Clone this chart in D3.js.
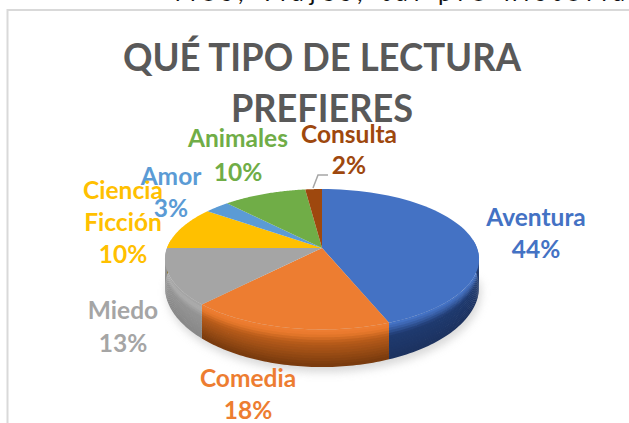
<!DOCTYPE html>
<html>
<head>
<meta charset="utf-8">
<script src="https://cdn.jsdelivr.net/npm/d3@7"></script>
<style>
  html, body { margin: 0; padding: 0; background: #fff; overflow: hidden; }
  svg { display: block; font-family: Lato, "Open Sans", sans-serif; font-weight: 700; }
</style>
</head>
<body>
<svg id="chart" width="629" height="423"></svg>
<script>
const categories = ['Aventura', 'Comedia', 'Miedo', 'Ciencia Ficción', 'Amor', 'Animales', 'Consulta'];
const values = [44, 18, 13, 10, 3, 10, 2];
const colors = ['#4472c4', '#ed7d31', '#a5a5a5', '#ffc000', '#5b9bd5', '#70ad47', '#9e480e'];
const rimLight = ['#3a62ac', '#e8792c', '#adadad', '#ffc000', '#5b9bd5', '#70ad47', '#9e480e'];
const rimMid = ['#1f3a70', '#b85c1a', '#949494', '#bf9000', '#41719c', '#548235', '#763608'];
const rimDark = ['#1c3260', '#7a3b0e', '#888888', '#7f6000', '#2e4f6e', '#385723', '#4f2405'];
const titleLines = ['QUÉ TIPO DE LECTURA', 'PREFIERES'];
const topText = 'rios, viajes, tal pro historia';

const svg = d3.select('#chart');
const defs = svg.append('defs');

// Setup: pie with perspective tilt, apex sits above the middle of the ellipse
const cx = 322, cy = 248;
const R = 155, S = 68.4, k = 0.16;

const project = (a, r = 1) => {
  const u = Math.sin(a) * r, v = Math.cos(a) * r;
  const w = 1 + k * v;
  return [cx + R * u / w, cy - S * v / w];
};
// rim gets thicker towards the viewer
const rimDepth = a => 26 / Math.pow(1 + k * Math.cos(a), 2);

const arcs = d3.pie().sort(null).value(d => d)(values);
const line = d3.line();

const sample = (a0, a1, n = 60) => d3.range(n + 1).map(i => a0 + (a1 - a0) * i / n);

// Chart frame (only left and top edges are in the crop)
svg.append('path')
  .attr('d', d3.line()([[7.5, 423], [7.5, 10], [629, 10]]))
  .attr('fill', 'none')
  .attr('stroke', '#d9d9d9')
  .attr('stroke-width', 2);

svg.append('text')
  .attr('x', 175).attr('y', 1)
  .attr('fill', '#111')
  .attr('textLength', 450)
  .style('font-size', '24px')
  .style('font-weight', 400)
  .text(topText);

// Soft shadow under the pie
defs.append('filter').attr('id', 'blur')
  .attr('x', '-20%').attr('y', '-20%').attr('width', '140%').attr('height', '140%')
  .append('feGaussianBlur').attr('stdDeviation', 4);

svg.append('path')
  .attr('d', line(sample(Math.PI / 2, 3 * Math.PI / 2).map(a => {
    const p = project(a);
    return [p[0] + 2, p[1] + rimDepth(a) + 6];
  })) + 'Z')
  .attr('fill', '#bfbfbf')
  .attr('opacity', 0.6)
  .attr('filter', 'url(#blur)');

// Side wall: thin bands from the top edge down, so shading follows the rim
const rimStart = Math.PI / 2 - 0.12, rimEnd = 3 * Math.PI / 2 + 0.12;
const bandCount = 14;
const rimShade = (i, t) => {
  if (t < 0.12) return d3.interpolateRgb(colors[i], rimLight[i])(t / 0.12);
  if (t < 0.35) return d3.interpolateRgb(rimLight[i], rimMid[i])((t - 0.12) / 0.23);
  return d3.interpolateRgb(rimMid[i], rimDark[i])((t - 0.35) / 0.65);
};

arcs.filter(d => d.endAngle > rimStart && d.startAngle < rimEnd).forEach(d => {
  const a0 = Math.max(d.startAngle, rimStart), a1 = Math.min(d.endAngle, rimEnd);
  const pts = sample(a0, a1).map(a => [project(a), rimDepth(a)]);
  svg.append('g').selectAll('path')
    .data(d3.range(bandCount))
    .enter().append('path')
    .attr('d', b => {
      const upper = pts.map(([p, h]) => [p[0], p[1] + h * b / bandCount]);
      const lower = pts.map(([p, h]) => [p[0], p[1] + h * (b + 1.3) / bandCount]).reverse();
      return line(upper.concat(lower)) + 'Z';
    })
    .attr('fill', b => rimShade(d.index, b / (bandCount - 1)));
});

// Top face
svg.append('g').selectAll('path')
  .data(arcs)
  .enter().append('path')
  .attr('d', d => line([[cx, cy]].concat(sample(d.startAngle, d.endAngle).map(a => project(a)))) + 'Z')
  .attr('fill', (d, i) => colors[i]);

// Leader for the Consulta label
svg.append('path')
  .attr('d', d3.line()([[313, 188], [318, 175], [328, 175]]))
  .attr('fill', 'none')
  .attr('stroke', '#a6a6a6')
  .attr('stroke-width', 1.5);

// Title
const titleY = [71, 122];
const titleLen = [398, 182];
svg.append('g').selectAll('text')
  .data(titleLines)
  .enter().append('text')
  .attr('x', 322)
  .attr('y', (d, i) => titleY[i])
  .attr('text-anchor', 'middle')
  .attr('textLength', (d, i) => titleLen[i])
  .attr('lengthAdjust', 'spacingAndGlyphs')
  .attr('fill', '#595959')
  .style('font-size', '38px')
  .text(d => d);

// Data labels, one entry per category index
const labelLines = [['Aventura', '44%'], ['Comedia', '18%'], ['Miedo', '13%'], ['Ciencia', 'Ficción', '10%'], ['Amor', '3%'], ['Animales', '10%'], ['Consulta', '2%']];
const labelX = [536, 248, 123, 123, 171, 238, 349];
const labelY = [226, 387, 319, 199, 185, 147, 143];
const lineGap = [32, 32, 33, 32, 32, 34, 31];

const labels = svg.append('g').selectAll('text')
  .data(labelLines)
  .enter().append('text')
  .attr('text-anchor', 'middle')
  .attr('fill', (d, i) => colors[i])
  .style('font-size', '24.5px');

labels.selectAll('tspan')
  .data((d, i) => d.map((t, j) => ({ t, x: labelX[i], y: labelY[i] + j * lineGap[i] })))
  .enter().append('tspan')
  .attr('x', d => d.x)
  .attr('y', d => d.y)
  .text(d => d.t);
</script>
</body>
</html>
